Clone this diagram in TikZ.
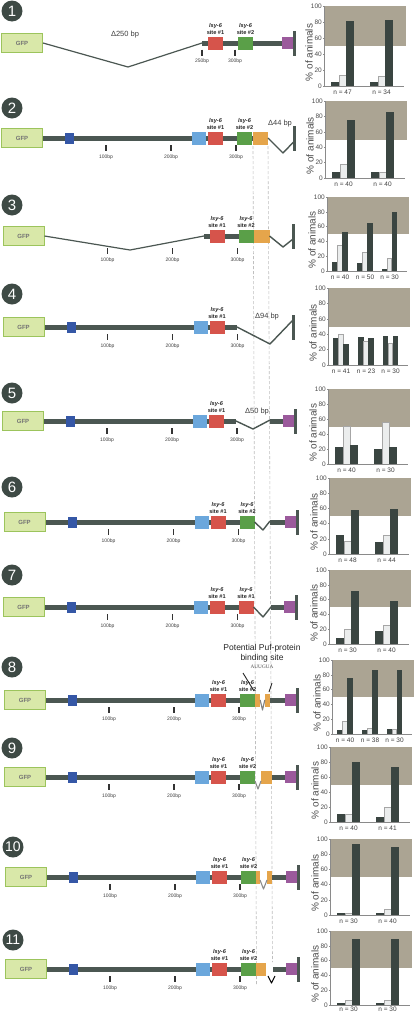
\documentclass[tikz,border=0pt]{standalone}
\usepackage{fontspec}
\setmainfont{Liberation Sans}
\newfontfamily\seriff{Liberation Serif}
\definecolor{barc}{HTML}{4B5752}
\definecolor{circ}{HTML}{3E4A45}
\definecolor{gfpfill}{HTML}{D9E8A9}
\definecolor{gfpdraw}{HTML}{9CC45C}
\definecolor{cdb}{HTML}{3557A6}
\definecolor{clb}{HTML}{6BA7DC}
\definecolor{cred}{HTML}{D6544B}
\definecolor{cgrn}{HTML}{5A9F48}
\definecolor{corg}{HTML}{E5A54B}
\definecolor{cpur}{HTML}{9B5A9C}
\definecolor{shadec}{HTML}{ABA493}
\definecolor{bdark}{HTML}{3A4541}
\definecolor{blight}{HTML}{EBEDED}
\definecolor{axc}{HTML}{8A8A8A}
\tikzset{
  barln/.style={line width=5pt, draw=barc},
  delln/.style={line width=1.4pt, draw=barc, line join=round},
  gfpbox/.style={draw=gfpdraw, line width=1pt, fill=gfpfill, minimum width=41pt, minimum height=19pt, inner sep=0pt, text=black!55, font=\fontsize{6}{7}\selectfont\bfseries},
  segb/.style={inner sep=0pt, draw=none},
  endb/.style={fill=barc, minimum width=3pt, minimum height=25pt, inner sep=0pt},
  numc/.style={circle, fill=circ, minimum size=21pt, inner sep=0pt, text=white, font=\fontsize{15}{15}\selectfont},
  lsy/.style={font=\fontsize{5.6}{6.8}\selectfont\bfseries, align=center, inner sep=0pt, anchor=south, text=black!85},
  tickm/.style={line width=1.2pt, draw=black!80},
  tickt/.style={font=\fontsize{5}{6}\selectfont, inner sep=0pt, text=black!75},
  dlab/.style={font=\fontsize{7.5}{8}\selectfont, inner sep=0pt, text=black!75},
  pufl/.style={font=\fontsize{8.5}{9}\selectfont, inner sep=0pt, text=black!85},
  dashl/.style={draw=black!25, line width=0.6pt, dash pattern=on 3pt off 2pt},
  axl/.style={draw=axc, line width=0.5pt},
  dkb/.style={fill=bdark, draw=bdark, line width=0.3pt},
  ltb/.style={fill=blight, draw=black!35, line width=0.4pt},
  ytk/.style={font=\fontsize{6.5}{7}\selectfont, inner sep=0pt, text=black!70, anchor=east},
  ylab/.style={font=\fontsize{10}{10}\selectfont, inner sep=0pt, text=black!70, rotate=90},
  nlab/.style={font=\fontsize{6.5}{7}\selectfont, inner sep=0pt, text=black!75}
}
\def\noff{6.5}
% segment box: name, colour, x1, x2, height
\newcommand\seg[5]{\node[segb, fill=#2, minimum width={#4-#3}, minimum height=#5] (#1) at ({(#3+#4)/2},0) {};}
% tick: name, x, label, top
\newcommand\tk[4]{\draw[tickm] (#2,#4) -- (#2,#4+6); \node[tickt] (#1) at (#2,#4+12) {#3};}
% lsy label: name, x, site number
\newcommand\lsyl[3]{\node[lsy] (#1) at (#2,-8) {\itshape lsy-6\\site \##3};}
% standard scale ticks
\newcommand\stdticks[2]{\tk{#1a}{106}{100bp}{#2}\tk{#1b}{171}{200bp}{#2}\tk{#1c}{236}{300bp}{#2}}
% bars
\newcommand\dbar[3]{\filldraw[dkb] (#1,0) rectangle ++(#2,-#3*\cs);}
\newcommand\lbar[3]{\filldraw[ltb] (#1,0) rectangle ++(#2,-#3*\cs);}
\newcommand\bartwo[6]{\dbar{7.5}{7}{#1}\lbar{15}{7}{#2}\dbar{22.5}{7}{#3}\dbar{46.5}{7}{#4}\lbar{54}{7}{#5}\dbar{61.5}{7}{#6}}
\newcommand\barthree[9]{\dbar{5.5}{4.6}{#1}\lbar{10.5}{4.6}{#2}\dbar{15.5}{4.6}{#3}\dbar{30.5}{4.6}{#4}\lbar{35.5}{4.6}{#5}\dbar{40.5}{4.6}{#6}\dbar{55}{4.6}{#7}\lbar{60}{4.6}{#8}\dbar{65}{4.6}{#9}}
\newcommand\ntwo[2]{\node[nlab] (\cid n1) at (18.5,\noff) {n = #1};\node[nlab] (\cid n2) at (57.5,\noff) {n = #2};}
\newcommand\nthree[3]{\node[nlab] (\cid n1) at (13,\noff) {n = #1};\node[nlab] (\cid n2) at (38,\noff) {n = #2};\node[nlab] (\cid n3) at (62.5,\noff) {n = #3};}
% chart: id, axis x, y of 0, y of 100, bars, n labels
\newcommand\mychart[6]{%
 \begin{scope}[shift={(#2,#3)}]
  \def\cid{#1}
  \pgfmathsetmacro\cs{(#3-#4)/100}
  \fill[shadec] (0,-50*\cs) rectangle (82,-100*\cs);
  #5
  \draw[axl] (0,0) -- (80,0);
  \draw[axl] (0,0) -- (0,-100*\cs);
  \foreach \t in {0,20,40,60,80,100}{\draw[axl] (0,-\t*\cs) -- (-1.5,-\t*\cs); \node[ytk] (#1y\t) at (-2,-\t*\cs) {\t};}
  \node[ylab] (#1lab) at (-15,-42*\cs) {\% of animals};
  #6
 \end{scope}}
\begin{document}
\begin{tikzpicture}[x=1pt, y=-1pt]
\fill[white] (0,0) rectangle (416,1015);
\useasboundingbox (0,0) rectangle (416,1015);

% dashed guide lines
\coordinate (dlt) at (253,146); \coordinate (dlb) at (256.5,985);
\coordinate (drt) at (268,146); \coordinate (drb) at (272.5,962);
\draw[dashl] (dlt) -- (dlb);
\draw[dashl] (drt) -- (drb);

% number circles
\node[numc] (c1) at (12,11) {1};
\node[numc] (c2) at (12,108) {2};
\node[numc] (c3) at (12,205) {3};
\node[numc] (c4) at (12,294) {4};
\node[numc] (c5) at (12,393) {5};
\node[numc] (c6) at (12,487) {6};
\node[numc] (c7) at (12,575) {7};
\node[numc] (c8) at (12,667) {8};
\node[numc] (c9) at (12,748) {9};
\node[numc, font=\fontsize{14}{14}\selectfont] (c10) at (13,847) {10};
\node[numc, font=\fontsize{14}{14}\selectfont] (c11) at (13,940) {11};

% ---------- row 1
\begin{scope}[shift={(0,43)}]
\coordinate (a1s) at (202,0); \coordinate (a1e) at (294.5,0); \coordinate (a1v) at (128,24);
\draw[barln] (a1s) -- (a1e);
\node[gfpbox] (g1) at (22,0) {GFP};
\draw[delln, line width=1.2pt] (g1.east) -- (a1v) -- (a1s);
\seg{r1a}{cred}{208}{223}{13}
\seg{r1b}{cgrn}{238}{253}{13}
\seg{r1p}{cpur}{282}{293}{12}
\node[endb] (e1) at (a1e) {};
\tk{t1a}{202}{250bp}{6.5}
\tk{t1b}{235}{300bp}{6.5}
\lsyl{l1a}{215.5}{1}
\lsyl{l1b}{245.5}{2}
\node[dlab] (d1) at (125,-8) {Δ250 bp};
\end{scope}

% ---------- row 2
\begin{scope}[shift={(0,138)}]
\coordinate (a2s) at (43,0); \coordinate (a2e) at (268,0); \coordinate (a2v) at (283,15); \coordinate (a2w) at (294.5,3);
\draw[barln] (a2s) -- (a2e);
\node[gfpbox] (g2) at (22,0) {GFP};
\seg{b2}{cdb}{65}{74}{11}
\seg{lb2}{clb}{192}{206}{13}
\seg{r2}{cred}{208}{223}{13}
\seg{gr2}{cgrn}{237}{252}{13}
\seg{o2}{corg}{253}{268}{13}
\draw[delln] (a2e) -- (a2v) -- (a2w);
\node[endb] (e2) at (294.5,0) {};
\stdticks{t2}{7}
\lsyl{l2a}{215.5}{1}
\lsyl{l2b}{244.5}{2}
\node[dlab] (d2) at (280,-14) {Δ44 bp};
\end{scope}

% ---------- row 3
\begin{scope}[shift={(1.5,236)}]
\coordinate (a3s) at (202.5,0); \coordinate (a3e) at (268,0); \coordinate (a3v) at (128.5,14);
\coordinate (a3w) at (281.5,11); \coordinate (a3x) at (291.5,3);
\draw[barln] (a3s) -- (a3e);
\node[gfpbox] (g3) at (22,0) {GFP};
\draw[delln, line width=1.2pt] (g3.east) -- (a3v) -- (a3s);
\seg{r3}{cred}{208}{223}{13}
\seg{gr3}{cgrn}{237}{252}{13}
\seg{o3}{corg}{252}{268}{13}
\draw[delln] (a3e) -- (a3w) -- (a3x);
\node[endb] (e3) at (291.5,0) {};
\stdticks{t3}{12}
\lsyl{l3a}{215.5}{1}
\lsyl{l3b}{244.5}{2}
\end{scope}

% ---------- row 4
\begin{scope}[shift={(1.5,327)}]
\coordinate (a4s) at (43,0); \coordinate (a4e) at (235.5,0); \coordinate (a4v) at (268.5,17); \coordinate (a4w) at (291.5,-7);
\draw[barln] (a4s) -- (a4e);
\node[gfpbox] (g4) at (22,0) {GFP};
\seg{b4}{cdb}{65}{74}{11}
\seg{lb4}{clb}{192}{206}{13}
\seg{r4}{cred}{208}{223}{13}
\draw[delln] (a4e) -- (a4v) -- (a4w);
\node[endb] (e4) at (291.5,0) {};
\stdticks{t4}{7}
\lsyl{l4a}{215.5}{1}
\node[dlab] (d4) at (265.5,-10) {Δ94 bp};
\end{scope}

% ---------- row 5
\begin{scope}[shift={(1,421)}]
\coordinate (a5s) at (43,0); \coordinate (a5e) at (235,0); \coordinate (a5v) at (252,8); \coordinate (a5w) at (269,-1);
\coordinate (a5r) at (269,0); \coordinate (a5t) at (294.5,0);
\draw[barln] (a5s) -- (a5e);
\draw[barln] (a5r) -- (a5t);
\node[gfpbox] (g5) at (22,0) {GFP};
\seg{b5}{cdb}{65}{74}{11}
\seg{lb5}{clb}{192}{206}{13}
\seg{r5}{cred}{208}{223}{13}
\seg{p5}{cpur}{282}{293}{12}
\draw[delln] (a5e) -- (a5v) -- (a5w);
\node[endb] (e5) at (a5t) {};
\stdticks{t5}{7}
\lsyl{l5a}{215.5}{1}
\node[dlab] (d5) at (256,-9) {Δ50 bp};
\end{scope}

% ---------- row 6
\begin{scope}[shift={(2.5,522)}]
\coordinate (a6s) at (43,0); \coordinate (a6e) at (252,0); \coordinate (a6v) at (260.5,8); \coordinate (a6w) at (267.5,-1);
\coordinate (a6r) at (267.5,0); \coordinate (a6t) at (294.5,0);
\draw[barln] (a6s) -- (a6e);
\draw[barln] (a6r) -- (a6t);
\node[gfpbox] (g6) at (22,0) {GFP};
\seg{b6}{cdb}{65}{74}{11}
\seg{lb6}{clb}{192}{206}{13}
\seg{r6}{cred}{208}{223}{13}
\seg{gr6}{cgrn}{237}{252}{13}
\seg{p6}{cpur}{282}{293}{12}
\draw[delln] (a6e) -- (a6v) -- (a6w);
\node[endb] (e6) at (a6t) {};
\stdticks{t6}{7}
\lsyl{l6a}{215.5}{1}
\lsyl{l6b}{244.5}{2}
\end{scope}

% ---------- row 7
\begin{scope}[shift={(1.5,607)}]
\coordinate (a7s) at (43,0); \coordinate (a7e) at (252,0); \coordinate (a7v) at (261.5,10); \coordinate (a7w) at (269.5,0);
\coordinate (a7t) at (294.5,0);
\draw[barln] (a7s) -- (a7e);
\draw[barln] (a7w) -- (a7t);
\node[gfpbox] (g7) at (22,0) {GFP};
\seg{b7}{cdb}{65}{74}{11}
\seg{lb7}{clb}{192}{206}{13}
\seg{r7}{cred}{208}{223}{13}
\seg{rr7}{cred}{237}{252}{13}
\seg{p7}{cpur}{282}{293}{12}
\draw[delln] (a7e) -- (a7v) -- (a7w);
\node[endb] (e7) at (a7t) {};
\stdticks{t7}{7}
\lsyl{l7a}{215.5}{1}
\lsyl{l7b}{244.5}{1}
\end{scope}

% ---------- row 8
\begin{scope}[shift={(3,700)}]
\coordinate (a8s) at (43,0); \coordinate (a8e) at (252,0);
\coordinate (a8r) at (267,0); \coordinate (a8t) at (294.5,0);
\draw[barln] (a8s) -- (a8e);
\draw[barln] (a8r) -- (a8t);
\node[gfpbox] (g8) at (22,0) {GFP};
\seg{b8}{cdb}{65}{74}{11}
\seg{lb8}{clb}{192}{206}{13}
\seg{r8}{cred}{208}{223}{13}
\seg{gr8}{cgrn}{237}{252}{13}
\seg{o8a}{corg}{252}{257}{13}
\seg{o8b}{corg}{262}{267}{13}
\seg{p8}{cpur}{282}{293}{12}
\coordinate (a8v) at (259.5,10);
\draw[delln, draw=black!50, line width=1.1pt] (o8a.east) -- (a8v) -- (o8b.west);
\node[endb] (e8) at (a8t) {};
\stdticks{t8}{7}
\coordinate (p8a) at (240,-27); \coordinate (p8b) at (251,-9);
\coordinate (p8c) at (269,-17); \coordinate (p8d) at (266,-8);
\draw[black!85, line width=0.9pt] (p8a) -- (p8b);
\draw[black!85, line width=0.9pt] (p8c) -- (p8d);
\lsyl{l8a}{215.5}{1}
\lsyl{l8b}{244.5}{2}
\node[pufl] (pf1) at (259,-52) {Potential Puf-protein};
\node[pufl] (pf2) at (259,-41.5) {binding site};
\node[inner sep=0pt, font=\seriff\fontsize{5.2}{6}\selectfont, text=black!70] (pf3) at (259,-33) {AUUGUA};
\end{scope}

% ---------- row 9
\begin{scope}[shift={(3,777)}]
\coordinate (a9s) at (43,0); \coordinate (a9e) at (252,0);
\coordinate (a9r) at (269,0); \coordinate (a9t) at (294.5,0);
\draw[barln] (a9s) -- (a9e);
\draw[barln] (a9r) -- (a9t);
\node[gfpbox] (g9) at (22,0) {GFP};
\seg{b9}{cdb}{65}{74}{11}
\seg{lb9}{clb}{192}{206}{13}
\seg{r9}{cred}{208}{223}{13}
\seg{gr9}{cgrn}{237}{252}{13}
\seg{o9}{corg}{258}{269}{13}
\seg{p9}{cpur}{282}{293}{12}
\coordinate (a9u) at (252,4); \coordinate (a9v) at (255,12); \coordinate (a9w) at (258,4);
\draw[delln, draw=black!45, line width=1.1pt] (a9u) -- (a9v) -- (a9w);
\node[endb] (e9) at (a9t) {};
\stdticks{t9}{7}
\lsyl{l9a}{215.5}{1}
\lsyl{l9b}{244.5}{2}
\end{scope}

% ---------- row 10
\begin{scope}[shift={(4,877)}]
\coordinate (a10s) at (43,0); \coordinate (a10e) at (252,0);
\coordinate (a10r) at (268,0); \coordinate (a10t) at (294.5,0);
\draw[barln] (a10s) -- (a10e);
\draw[barln] (a10r) -- (a10t);
\node[gfpbox] (g10) at (22,0) {GFP};
\seg{b10}{cdb}{65}{74}{11}
\seg{lb10}{clb}{192}{206}{13}
\seg{r10}{cred}{208}{223}{13}
\seg{gr10}{cgrn}{237}{252}{13}
\seg{o10a}{corg}{252}{256}{13}
\seg{o10b}{corg}{263}{268}{13}
\seg{p10}{cpur}{282}{293}{12}
\coordinate (a10u) at (256,3); \coordinate (a10v) at (259.5,12); \coordinate (a10w) at (263,3);
\draw[delln, draw=black!45, line width=1.1pt] (a10u) -- (a10v) -- (a10w);
\node[endb] (e10) at (a10t) {};
\stdticks{t10}{7}
\lsyl{l10a}{215.5}{1}
\lsyl{l10b}{244.5}{2}
\end{scope}

% ---------- row 11
\begin{scope}[shift={(4,969)}]
\coordinate (a11s) at (43,0); \coordinate (a11e) at (252,0);
\coordinate (a11r) at (269,0); \coordinate (a11t) at (294.5,0);
\draw[barln] (a11s) -- (a11e);
\draw[barln] (a11r) -- (a11t);
\node[gfpbox] (g11) at (22,0) {GFP};
\seg{b11}{cdb}{65}{74}{11}
\seg{lb11}{clb}{192}{206}{13}
\seg{r11}{cred}{208}{223}{13}
\seg{gr11}{cgrn}{237}{252}{13}
\seg{o11}{corg}{252}{262}{13}
\seg{p11}{cpur}{282}{293}{12}
\coordinate (a11u) at (264,7); \coordinate (a11v) at (267.5,14); \coordinate (a11w) at (271,7);
\draw[delln, draw=black, line width=1.1pt] (a11u) -- (a11v) -- (a11w);
\node[endb] (e11) at (a11t) {};
\stdticks{t11}{7}
\lsyl{l11a}{215.5}{1}
\lsyl{l11b}{244.5}{2}
\end{scope}

% ---------- charts
\mychart{k1}{324}{86}{6}{\bartwo{5}{13}{81}{5}{12}{82}}{\ntwo{47}{34}}
\mychart{k2}{325}{178}{101}{\bartwo{7}{18}{75}{7}{8}{85}}{\ntwo{40}{40}}
\mychart{k3}{327}{271}{197}{\barthree{12}{35}{53}{10}{26}{64}{2}{17}{80}}{\nthree{40}{50}{30}}
\mychart{k4}{328}{365}{288}{\barthree{35}{40}{27}{36}{31}{35}{37}{28}{37}}{\nthree{41}{23}{30}}
\mychart{k5}{328}{464}{389}{\bartwo{23}{51}{25}{20}{56}{23}}{\ntwo{40}{30}}
\mychart{k6}{329}{554}{478}{\bartwo{25}{17}{58}{16}{25}{59}}{\ntwo{48}{44}}
\mychart{k7}{329}{644}{570}{\bartwo{8}{20}{72}{17}{25}{58}}{\ntwo{30}{40}}
\mychart{k8}{332}{734}{660}{\barthree{5}{17}{76}{5}{8}{86}{6}{7}{86}}{\nthree{40}{38}{30}}
\mychart{k9}{330}{822}{747}{\bartwo{10}{10}{80}{7}{20}{73}}{\ntwo{40}{41}}
\mychart{k10}{330}{915}{839}{\bartwo{3}{3}{93}{3}{7}{89}}{\ntwo{30}{40}}
\mychart{k11}{330}{1005}{931}{\bartwo{3}{7}{89}{3}{7}{89}}{\def\noff{4.2}\ntwo{30}{30}}
\end{tikzpicture}
\end{document}
